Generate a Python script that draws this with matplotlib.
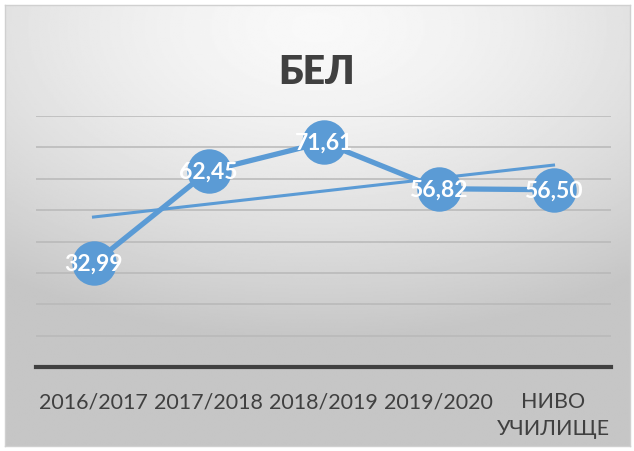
import numpy as np
import matplotlib
matplotlib.use("Agg")
import matplotlib.pyplot as plt

# данни
godini = ["2016/2017", "2017/2018", "2018/2019", "2019/2020", "НИВО\nУЧИЛИЩЕ"]
stoinosti = [32.99, 62.45, 71.61, 56.82, 56.50]
etiketi = ["32,99", "62,45", "71,61", "56,82", "56,50"]

plt.rcParams['font.family'] = ['Lato', 'Open Sans', 'DejaVu Sans']
SINYO = "#5B9BD5"
TEKST = "#404040"

fig = plt.figure(figsize=(6.34, 4.52), dpi=100)
fig.patch.set_facecolor("white")

# фон с радиален градиент
fon = fig.add_axes([5 / 634, 5 / 452, 625 / 634, 441 / 452])
yy, xx = np.mgrid[0:1:300j, 0:1:400j]
r = np.sqrt(((xx - 0.5) * 1.0) ** 2 + ((yy - 0.05) * 1.2) ** 2)
sivo = 0.975 - 0.2 * np.clip(r / 0.85, 0, 1) ** 1.5
fon.imshow(sivo, cmap="gray", vmin=0, vmax=1, aspect="auto", extent=[0, 1, 1, 0])
fon.set_xticks([])
fon.set_yticks([])
for s in fon.spines.values():
    s.set_color("#d0d0d0")
    s.set_linewidth(1)

ax = fig.add_axes([36 / 634, 84 / 452, 575 / 634, 251 / 452])
ax.set_facecolor("none")
x = np.arange(len(stoinosti))

ax.set_xlim(-0.5, len(stoinosti) - 0.5)
ax.set_ylim(0, 80)
ax.set_yticks(np.arange(10, 81, 10))
ax.yaxis.grid(True, color="#b8b8b8", linewidth=1.1)
ax.set_axisbelow(True)
ax.tick_params(axis="y", left=False, labelleft=False)
ax.tick_params(axis="x", bottom=False, pad=14, labelsize=15.5, labelcolor=TEKST)
ax.set_xticks(x)
ax.set_xticklabels(godini, linespacing=1.4)
for s in ax.spines.values():
    s.set_visible(False)
ax.axhline(0, color=TEKST, linewidth=3, clip_on=False)

# линия и тренд
ax.plot(x, stoinosti, color=SINYO, linewidth=3.8, marker="o", markersize=32,
        markeredgewidth=0, zorder=3)
k, b = np.polyfit(x, stoinosti, 1)
ax.plot(x, k * x + b, color=SINYO, linewidth=2.2, zorder=4)

for xi, v, t in zip(x, stoinosti, etiketi):
    ax.text(xi, v, t, ha="center", va="center", color="white", fontsize=16.5,
            fontweight="bold", zorder=5)

fig.text(0.5, 1 - 73 / 452, "БЕЛ", ha="center", va="center", fontsize=28,
         fontweight="heavy", color=TEKST)

fig.savefig("out.png", dpi=100)
